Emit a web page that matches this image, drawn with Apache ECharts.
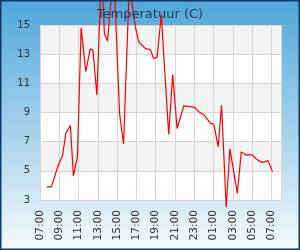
<!DOCTYPE html>
<html>
<head>
<meta charset="utf-8">
<script src="https://cdn.jsdelivr.net/npm/echarts@6/dist/echarts.min.js"></script>
<style>
html,body{margin:0;padding:0;}
#c{width:300px;height:250px;}
</style>
</head>
<body>
<div id="c"></div>
<script>
var titleText = 'Temperatuur (C)';
var times = ["07:42","08:11","08:54","09:19","09:42","10:09","10:28","10:53","11:16","11:45",
  "12:12","12:29","12:54","13:23","13:41","14:00","14:39","15:15","15:40","16:16",
  "16:53","17:14","17:55","18:27","18:47","19:09","19:35","20:21","20:46","21:13",
  "21:55","22:36","23:03","23:28","00:00","00:41","01:02","01:29","01:50","02:19",
  "02:42","03:28","03:53","04:20","05:02","05:22","05:53","06:14","06:39","07:07"];
var temps = [3.9,3.9,5.4,6.0,7.6,8.1,4.65,6.0,14.8,11.8,
  13.35,13.3,10.2,18.9,14.4,13.9,18.7,8.95,6.85,17.8,
  14.9,13.85,13.4,13.3,12.7,12.8,15.7,7.5,11.6,7.9,
  9.45,9.4,9.35,9.05,8.85,8.25,8.2,6.65,9.5,2.5,
  6.5,3.45,6.3,6.1,6.1,5.85,5.6,5.6,5.7,4.95];
var startHour = 7;       // axis starts at 07:00
var yTicks = [3,5,7,9,11,13,15];

// convert times to hours after 07:00, rolling over midnight
var data = [];
var prev = -1;
for (var i = 0; i < times.length; i++) {
  var p = times[i].split(':');
  var h = +p[0] + (+p[1]) / 60 - startHour;
  while (h < prev) h += 24;
  prev = h;
  data.push([h, temps[i]]);
}

var chart = echarts.init(document.getElementById('c'));
chart.setOption({
  animation: false,
  backgroundColor: new echarts.graphic.LinearGradient(0, 0, 0, 1, [
    {offset: 0, color: '#4fa6d9'},
    {offset: 1, color: '#f5fafd'}
  ]),
  title: {
    text: titleText, left: 'center', top: 3,
    textStyle: {fontFamily: 'DejaVu Sans', fontSize: 13, fontWeight: 'normal', color: '#1d3b5c'}
  },
  grid: {left: 40, right: 19, top: 25, bottom: 50, containLabel: false},
  xAxis: {
    type: 'value', min: 0, max: 25, interval: 2,
    axisLine: {show: false}, axisTick: {show: false},
    splitLine: {show: true, lineStyle: {color: '#d6d6d6', width: 1}},
    axisLabel: {
      rotate: 90, margin: 10, fontFamily: 'DejaVu Sans', fontSize: 10.6, color: '#333',
      showMaxLabel: false,
      formatter: function (v) {
        if (Math.abs(v - Math.round(v)) > 1e-6 || Math.round(v) % 2 !== 0) return '';
        var hh = (startHour + Math.round(v)) % 24;
        return (hh < 10 ? '0' : '') + hh + ':00';
      }
    }
  },
  yAxis: {
    type: 'value', min: yTicks[0], max: yTicks[yTicks.length - 1], interval: 2,
    axisLine: {show: false}, axisTick: {show: false},
    splitLine: {show: true, lineStyle: {color: '#d6d6d6', width: 1}},
    splitArea: {show: true, areaStyle: {color: ['#ffffff', '#f3f3f3']}},
    axisLabel: {margin: 10, fontFamily: 'DejaVu Sans', fontSize: 10, color: '#333'}
  },
  series: [{
    type: 'line', data: data, showSymbol: false, symbol: 'none', clip: false,
    lineStyle: {color: '#ff0000', width: 1.2}
  }],
  graphic: [{
    type: 'rect', z: 100,
    shape: {x: 0.75, y: 0.75, width: 298.5, height: 248.5},
    style: {fill: 'none', stroke: '#0b3a68', lineWidth: 1.5}
  }]
});
</script>
</body>
</html>
